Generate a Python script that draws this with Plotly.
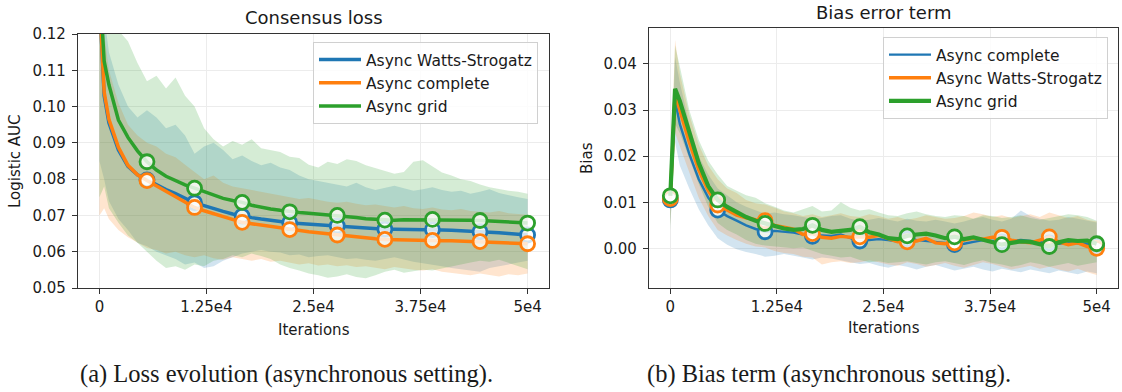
import numpy as np
import plotly.graph_objects as go

# ---------------- data ----------------
# evaluation grid (iterations): first point, then every 50000/90 once, then every 50000/45
X_FULL = np.linspace(0, 50000, 91)
ITERS = [X_FULL[0], X_FULL[1]] + list(X_FULL[2::2])
MARK_STEP = 50000 / 9

# Left panel: Consensus loss (Logistic AUC)
loss_ws_mean = [0.1300, 0.1030, 0.0955, 0.0880, 0.0835, 0.0812, 0.0798, 0.0784, 0.0771, 0.0760,
                0.0748, 0.0735, 0.0727, 0.0718, 0.0711, 0.0704, 0.0698, 0.0694, 0.0690, 0.0686,
                0.0683, 0.0680, 0.0678, 0.0676, 0.0675, 0.0673, 0.0671, 0.0669, 0.0667, 0.0665,
                0.0664, 0.0662, 0.0662, 0.0662, 0.0661, 0.0661, 0.0661, 0.0660, 0.0659, 0.0658,
                0.0657, 0.0655, 0.0654, 0.0652, 0.0650, 0.0648, 0.0646]
loss_ws_low = [0.0850, 0.0800, 0.0740, 0.0690, 0.0660, 0.0625, 0.0615, 0.0600, 0.0590, 0.0580,
               0.0565, 0.0570, 0.0555, 0.0560, 0.0575, 0.0585, 0.0595, 0.0600, 0.0605, 0.0600,
               0.0598, 0.0590, 0.0592, 0.0585, 0.0588, 0.0590, 0.0585, 0.0580, 0.0582, 0.0578,
               0.0575, 0.0580, 0.0585, 0.0578, 0.0572, 0.0568, 0.0565, 0.0560, 0.0555, 0.0552,
               0.0548, 0.0545, 0.0555, 0.0560, 0.0565, 0.0570, 0.0575]
loss_ws_high = [0.1500, 0.1250, 0.1150, 0.1060, 0.1000, 0.0970, 0.0990, 0.0970, 0.0940, 0.0950,
                0.0920, 0.0870, 0.0890, 0.0900, 0.0880, 0.0855, 0.0865, 0.0850, 0.0838, 0.0845,
                0.0832, 0.0825, 0.0810, 0.0800, 0.0795, 0.0790, 0.0785, 0.0780, 0.0790, 0.0778,
                0.0770, 0.0775, 0.0782, 0.0775, 0.0768, 0.0772, 0.0778, 0.0770, 0.0765, 0.0768,
                0.0760, 0.0765, 0.0772, 0.0762, 0.0755, 0.0750, 0.0745]

loss_co_mean = [0.1300, 0.1040, 0.0965, 0.0888, 0.0838, 0.0812, 0.0796, 0.0781, 0.0767, 0.0753,
                0.0738, 0.0722, 0.0713, 0.0705, 0.0697, 0.0689, 0.0681, 0.0677, 0.0673, 0.0669,
                0.0665, 0.0661, 0.0658, 0.0655, 0.0652, 0.0649, 0.0646, 0.0643, 0.0640, 0.0638,
                0.0636, 0.0634, 0.0633, 0.0632, 0.0632, 0.0631, 0.0631, 0.0630, 0.0630, 0.0629,
                0.0629, 0.0628, 0.0627, 0.0626, 0.0625, 0.0623, 0.0622]
loss_co_low = [0.0700, 0.0720, 0.0690, 0.0660, 0.0640, 0.0625, 0.0610, 0.0605, 0.0595, 0.0600,
               0.0590, 0.0585, 0.0590, 0.0582, 0.0578, 0.0585, 0.0580, 0.0575, 0.0580, 0.0572,
               0.0575, 0.0570, 0.0565, 0.0568, 0.0562, 0.0565, 0.0560, 0.0563, 0.0558, 0.0560,
               0.0555, 0.0552, 0.0558, 0.0555, 0.0550, 0.0548, 0.0552, 0.0545, 0.0542, 0.0538,
               0.0535, 0.0540, 0.0536, 0.0532, 0.0538, 0.0535, 0.0540]
loss_co_high = [0.1500, 0.1200, 0.1100, 0.1010, 0.0950, 0.0920, 0.0900, 0.0890, 0.0870, 0.0860,
                0.0840, 0.0820, 0.0800, 0.0810, 0.0790, 0.0780, 0.0775, 0.0770, 0.0765, 0.0760,
                0.0755, 0.0750, 0.0745, 0.0748, 0.0742, 0.0738, 0.0735, 0.0738, 0.0732, 0.0728,
                0.0730, 0.0725, 0.0722, 0.0726, 0.0720, 0.0718, 0.0722, 0.0716, 0.0714, 0.0718,
                0.0712, 0.0710, 0.0708, 0.0712, 0.0706, 0.0704, 0.0702]

loss_gr_mean = [0.1350, 0.1125, 0.1060, 0.0963, 0.0915, 0.0878, 0.0848, 0.0825, 0.0808, 0.0795,
                0.0784, 0.0775, 0.0765, 0.0755, 0.0747, 0.0741, 0.0736, 0.0728, 0.0722, 0.0718,
                0.0714, 0.0710, 0.0708, 0.0706, 0.0704, 0.0702, 0.0700, 0.0697, 0.0694, 0.0691,
                0.0689, 0.0687, 0.0687, 0.0688, 0.0688, 0.0689, 0.0689, 0.0688, 0.0688, 0.0687,
                0.0687, 0.0686, 0.0685, 0.0684, 0.0683, 0.0681, 0.0679]
loss_gr_low = [0.0750, 0.0780, 0.0720, 0.0680, 0.0645, 0.0625, 0.0600, 0.0575, 0.0555, 0.0560,
               0.0550, 0.0565, 0.0560, 0.0575, 0.0580, 0.0590, 0.0585, 0.0595, 0.0588, 0.0580,
               0.0565, 0.0555, 0.0548, 0.0540, 0.0535, 0.0528, 0.0532, 0.0538, 0.0530, 0.0527,
               0.0535, 0.0545, 0.0550, 0.0542, 0.0545, 0.0550, 0.0548, 0.0555, 0.0560, 0.0565,
               0.0570, 0.0575, 0.0572, 0.0578, 0.0570, 0.0560, 0.0552]
loss_gr_high = [0.1600, 0.1350, 0.1280, 0.1210, 0.1180, 0.1120, 0.1070, 0.1085, 0.1050, 0.1080,
                0.1030, 0.1000, 0.0940, 0.0910, 0.0890, 0.0905, 0.0895, 0.0910, 0.0885, 0.0880,
                0.0875, 0.0862, 0.0858, 0.0840, 0.0832, 0.0848, 0.0842, 0.0855, 0.0850, 0.0838,
                0.0830, 0.0822, 0.0815, 0.0820, 0.0848, 0.0852, 0.0835, 0.0818, 0.0810, 0.0800,
                0.0795, 0.0785, 0.0778, 0.0772, 0.0768, 0.0765, 0.0760]

# Right panel: Bias error term
bias_co_mean = [0.0105, 0.0322, 0.0270, 0.0205, 0.0150, 0.0110, 0.0083, 0.0070, 0.0060, 0.0050,
                0.0042, 0.0036, 0.0038, 0.0036, 0.0034, 0.0030, 0.0026, 0.0028, 0.0027, 0.0030,
                0.0022, 0.0016, 0.0018, 0.0020, 0.0018, 0.0015, 0.0020, 0.0018, 0.0016, 0.0014,
                0.0012, 0.0008, 0.0010, 0.0014, 0.0018, 0.0016, 0.0014, 0.0016, 0.0018, 0.0016,
                0.0014, 0.0012, 0.0010, 0.0012, 0.0011, 0.0010, 0.0006]
bias_co_low = [0.0050, 0.0230, 0.0180, 0.0130, 0.0085, 0.0050, 0.0022, 0.0008, -0.0002, -0.0008,
               -0.0012, -0.0018, -0.0016, -0.0012, -0.0016, -0.0020, -0.0024, -0.0020, -0.0022, -0.0026,
               -0.0030, -0.0034, -0.0032, -0.0038, -0.0042, -0.0036, -0.0040, -0.0046, -0.0040, -0.0036,
               -0.0042, -0.0048, -0.0044, -0.0040, -0.0046, -0.0050, -0.0044, -0.0048, -0.0052, -0.0046,
               -0.0050, -0.0054, -0.0048, -0.0052, -0.0056, -0.0050, -0.0054]
bias_co_high = [0.0120, 0.0415, 0.0360, 0.0270, 0.0200, 0.0160, 0.0130, 0.0115, 0.0100, 0.0090,
                0.0082, 0.0075, 0.0078, 0.0074, 0.0072, 0.0068, 0.0064, 0.0066, 0.0070, 0.0072,
                0.0064, 0.0060, 0.0062, 0.0066, 0.0062, 0.0058, 0.0064, 0.0060, 0.0058, 0.0062,
                0.0058, 0.0054, 0.0058, 0.0064, 0.0068, 0.0062, 0.0058, 0.0064, 0.0082, 0.0070,
                0.0064, 0.0060, 0.0062, 0.0068, 0.0064, 0.0060, 0.0056]

bias_ws_mean = [0.0108, 0.0336, 0.0300, 0.0230, 0.0170, 0.0125, 0.0094, 0.0082, 0.0072, 0.0066,
                0.0062, 0.0060, 0.0050, 0.0046, 0.0042, 0.0030, 0.0032, 0.0024, 0.0022, 0.0026,
                0.0024, 0.0025, 0.0024, 0.0028, 0.0020, 0.0014, 0.0014, 0.0016, 0.0022, 0.0012,
                0.0010, 0.0012, 0.0018, 0.0022, 0.0020, 0.0024, 0.0024, 0.0018, 0.0014, 0.0012,
                0.0018, 0.0025, 0.0014, 0.0008, 0.0012, 0.0004, 0.0000]
bias_ws_low = [0.0050, 0.0250, 0.0220, 0.0165, 0.0110, 0.0070, 0.0040, 0.0028, 0.0018, 0.0010,
               0.0004, 0.0002, -0.0006, -0.0010, -0.0012, -0.0018, -0.0020, -0.0035, -0.0030, -0.0028,
               -0.0032, -0.0030, -0.0026, -0.0030, -0.0035, -0.0038, -0.0030, -0.0034, -0.0040, -0.0036,
               -0.0032, -0.0038, -0.0042, -0.0036, -0.0030, -0.0034, -0.0040, -0.0046, -0.0042, -0.0038,
               -0.0044, -0.0040, -0.0046, -0.0050, -0.0044, -0.0052, -0.0058]
bias_ws_high = [0.0140, 0.0452, 0.0380, 0.0290, 0.0225, 0.0180, 0.0150, 0.0130, 0.0120, 0.0105,
                0.0098, 0.0095, 0.0088, 0.0080, 0.0076, 0.0070, 0.0074, 0.0068, 0.0072, 0.0076,
                0.0070, 0.0068, 0.0074, 0.0070, 0.0064, 0.0068, 0.0062, 0.0066, 0.0072, 0.0068,
                0.0064, 0.0066, 0.0070, 0.0078, 0.0074, 0.0068, 0.0072, 0.0066, 0.0070, 0.0074,
                0.0068, 0.0078, 0.0072, 0.0066, 0.0070, 0.0062, 0.0058]

bias_gr_mean = [0.0114, 0.0346, 0.0320, 0.0250, 0.0185, 0.0135, 0.0105, 0.0090, 0.0078, 0.0068,
                0.0060, 0.0054, 0.0048, 0.0043, 0.0040, 0.0042, 0.0050, 0.0040, 0.0036, 0.0037,
                0.0040, 0.0047, 0.0035, 0.0030, 0.0022, 0.0020, 0.0027, 0.0030, 0.0032, 0.0028,
                0.0022, 0.0025, 0.0020, 0.0024, 0.0018, 0.0014, 0.0008, 0.0012, 0.0015, 0.0014,
                0.0010, 0.0004, 0.0013, 0.0018, 0.0016, 0.0017, 0.0010]
bias_gr_low = [0.0040, 0.0270, 0.0250, 0.0195, 0.0140, 0.0090, 0.0055, 0.0040, 0.0030, 0.0018,
               0.0010, 0.0006, 0.0004, 0.0002, 0.0000, 0.0002, -0.0005, -0.0012, -0.0016, -0.0020,
               -0.0018, -0.0025, -0.0030, -0.0028, -0.0032, -0.0030, -0.0028, -0.0032, -0.0035, -0.0030,
               -0.0028, -0.0032, -0.0036, -0.0030, -0.0026, -0.0032, -0.0035, -0.0040, -0.0036, -0.0030,
               -0.0034, -0.0040, -0.0036, -0.0032, -0.0038, -0.0034, -0.0030]
bias_gr_high = [0.0130, 0.0440, 0.0395, 0.0300, 0.0235, 0.0190, 0.0160, 0.0135, 0.0125, 0.0115,
                0.0110, 0.0098, 0.0090, 0.0082, 0.0078, 0.0085, 0.0092, 0.0080, 0.0082, 0.0100,
                0.0088, 0.0082, 0.0085, 0.0078, 0.0072, 0.0070, 0.0076, 0.0080, 0.0074, 0.0070,
                0.0068, 0.0072, 0.0070, 0.0064, 0.0072, 0.0070, 0.0066, 0.0068, 0.0072, 0.0066,
                0.0062, 0.0066, 0.0070, 0.0074, 0.0072, 0.0068, 0.0060]

X_TICKS = [0, 12500, 25000, 37500, 50000]
X_TICK_LABELS = ["0", "1.25e4", "2.5e4", "3.75e4", "5e4"]
LOSS_TICKS = [0.05, 0.06, 0.07, 0.08, 0.09, 0.10, 0.11, 0.12]
BIAS_TICKS = [0.00, 0.01, 0.02, 0.03, 0.04]

BLUE, ORANGE, GREEN = "#1f77b4", "#ff7f0e", "#2ca02c"
FILL = {BLUE: "rgba(31,119,180,0.2)", ORANGE: "rgba(255,127,14,0.2)", GREEN: "rgba(44,160,44,0.2)"}

# ---------------- figure ----------------
W, H = 1122, 392
fig = go.Figure()

MARK_IDX = [i for i, x in enumerate(ITERS) if abs(x / MARK_STEP - round(x / MARK_STEP)) < 1e-6]


def add_series(name, mean, low, high, color, width, xa, ya, legend):
    fig.add_trace(go.Scatter(
        x=list(ITERS) + list(ITERS)[::-1], y=list(high) + list(low)[::-1],
        fill="toself", fillcolor=FILL[color], line=dict(width=0), mode="lines",
        hoverinfo="skip", showlegend=False, xaxis=xa, yaxis=ya))
    return (name, mean, color, width, xa, ya, legend)


def add_line(spec):
    name, mean, color, width, xa, ya, legend = spec
    fig.add_trace(go.Scatter(
        x=ITERS, y=mean, mode="lines", name=name, line=dict(color=color, width=width),
        xaxis=xa, yaxis=ya, legend=legend, showlegend=True))
    fig.add_trace(go.Scatter(
        x=[ITERS[i] for i in MARK_IDX], y=[mean[i] for i in MARK_IDX], mode="markers",
        marker=dict(size=14, color="rgba(255,255,255,0.8)", line=dict(color=color, width=2.8)),
        xaxis=xa, yaxis=ya, showlegend=False, hoverinfo="skip"))


left = [
    add_series("Async Watts-Strogatz", loss_ws_mean, loss_ws_low, loss_ws_high, BLUE, 3.5, "x", "y", "legend"),
    add_series("Async complete", loss_co_mean, loss_co_low, loss_co_high, ORANGE, 3.5, "x", "y", "legend"),
    add_series("Async grid", loss_gr_mean, loss_gr_low, loss_gr_high, GREEN, 3.5, "x", "y", "legend"),
]
for s in left:
    add_line(s)

right = [
    add_series("Async complete", bias_co_mean, bias_co_low, bias_co_high, BLUE, 2.4, "x2", "y2", "legend2"),
    add_series("Async Watts-Strogatz", bias_ws_mean, bias_ws_low, bias_ws_high, ORANGE, 3.4, "x2", "y2", "legend2"),
    add_series("Async grid", bias_gr_mean, bias_gr_low, bias_gr_high, GREEN, 4.2, "x2", "y2", "legend2"),
]
for s in right:
    add_line(s)

# pixel geometry of the two axes boxes
L_X0, L_X1, L_Y0, L_Y1 = 78, 549, 34, 288
R_X0, R_X1, R_Y0, R_Y1 = 649, 1118, 28, 288

TXT = "#1a1a1a"
FONT = "DejaVu Sans"


def xdom(a, b):
    return [a / W, b / W]


def ydom(top, bot):
    return [1 - bot / H, 1 - top / H]


axis_common = dict(showline=True, linecolor="#333333", linewidth=1.2, mirror=True,
                   ticks="outside", ticklen=5, tickwidth=1.1, tickcolor="#333333",
                   showgrid=True, gridcolor="#ececec", gridwidth=1, zeroline=False,
                   tickfont=dict(family=FONT, size=15, color=TXT))

legend_common = dict(xanchor="left", yanchor="top", itemwidth=42,
                     bgcolor="rgba(255,255,255,0.85)", bordercolor="#d0d0d0", borderwidth=1,
                     font=dict(family=FONT, size=15.5, color=TXT))

fig.update_layout(
    width=W, height=H, paper_bgcolor="white", plot_bgcolor="white",
    margin=dict(l=0, r=0, t=0, b=0, pad=0, autoexpand=False),
    xaxis=dict(domain=xdom(L_X0, L_X1), range=[-2500, 52500], tickvals=X_TICKS,
               ticktext=X_TICK_LABELS, anchor="y", **axis_common),
    yaxis=dict(domain=ydom(L_Y0, L_Y1), range=[0.05, 0.12], tickvals=LOSS_TICKS,
               ticktext=[f"{v:.2f}" for v in LOSS_TICKS], anchor="x", ticklabelstandoff=3,
               **axis_common),
    xaxis2=dict(domain=xdom(R_X0, R_X1), range=[-2500, 52500], tickvals=X_TICKS,
                ticktext=X_TICK_LABELS, anchor="y2", **axis_common),
    yaxis2=dict(domain=ydom(R_Y0, R_Y1), range=[-0.0086, 0.0478], tickvals=BIAS_TICKS,
                ticktext=[f"{v:.2f}" for v in BIAS_TICKS], anchor="x2", ticklabelstandoff=3,
                **axis_common),
    legend=dict(x=313 / W, y=1 - 42 / H, **legend_common),
    legend2=dict(x=883 / W, y=1 - 37 / H, **legend_common),
    showlegend=True,
)


def ann(text, x, y, size, family=FONT, angle=0):
    fig.add_annotation(text=text, x=x / W, y=1 - y / H, xref="paper", yref="paper",
                       xanchor="center", yanchor="middle", showarrow=False, textangle=angle,
                       font=dict(family=family, size=size, color=TXT))


ann("Consensus loss", (L_X0 + L_X1) / 2, 17, 18)
ann("Bias error term", (R_X0 + R_X1) / 2, 12, 18)
ann("Iterations", (L_X0 + L_X1) / 2, 330, 15)
ann("Iterations", (R_X0 + R_X1) / 2, 328, 15)
ann("Logistic AUC", 15, (L_Y0 + L_Y1) / 2, 15, angle=-90)
ann("Bias", 587, (R_Y0 + R_Y1) / 2, 15, angle=-90)
ann("(a) Loss evolution (asynchronous setting).", 286, 374, 24.5, family="Liberation Serif")
ann("(b) Bias term (asynchronous setting).", 829, 374, 24.5, family="Liberation Serif")

# remove the browser's default 8px page margin so the figure sits at the window origin
fig.write_html("out.html", config={"displayModeBar": False},
               post_script="document.body.style.margin='0';")
